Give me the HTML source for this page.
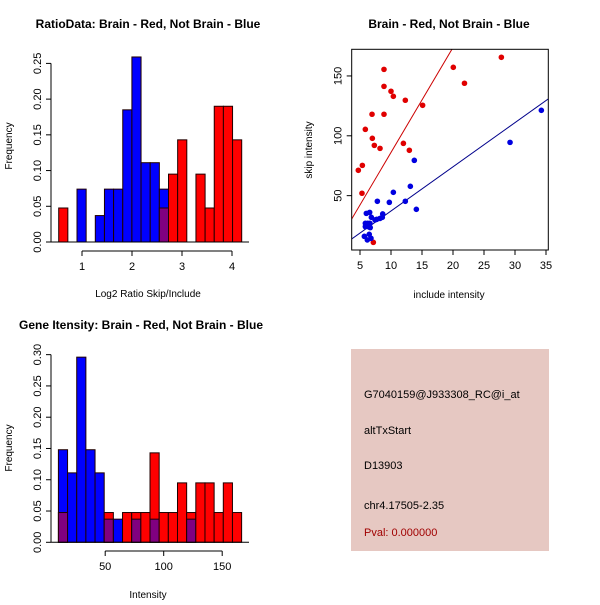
<!DOCTYPE html>
<html><head><meta charset="utf-8"><style>
body{margin:0;background:#fff}
svg{font-family:"Liberation Sans",sans-serif}
</style></head><body>
<svg id="c" width="600" height="600" xmlns="http://www.w3.org/2000/svg">
<rect width="600" height="600" fill="#fff"/>
<g id="p1"></g>
<g id="p2"></g>
<g id="p3"></g>
<g>
<rect x="351" y="349" width="198" height="202" fill="#e6c8c2"/>
<text x="364" y="398" font-size="11" fill="#000">G7040159@J933308_RC@i_at</text>
<text x="364" y="434" font-size="11" fill="#000">altTxStart</text>
<text x="364" y="469" font-size="11" fill="#000">D13903</text>
<text x="364" y="509" font-size="11" fill="#000">chr4.17505-2.35</text>
<text x="364" y="536" font-size="11" fill="#a00000">Pval: 0.000000</text>
</g>
</svg>
<script>
// Ratio histogram data (frequencies per bin)
const ratioBlue=[0,0,0.074,0,0.037,0.074,0.074,0.185,0.259,0.111,0.111,0.074,0,0,0,0,0,0,0,0];
const ratioRed=[0.0476,0,0,0,0,0,0,0,0,0,0,0.0476,0.095,0.143,0,0.095,0.0476,0.19,0.19,0.143];
const ratioBreakStart=0.534, ratioBreakWidth=0.183;
const ratioXTicks=[1,2,3,4];
const ratioYTicks=["0.00","0.05","0.10","0.15","0.20","0.25"];
// Intensity histogram data
const intBlue=[0.148,0.111,0.296,0.148,0.111,0.037,0.037,0,0.037,0,0.037,0,0,0,0.037,0,0,0,0,0];
const intRed=[0.0476,0,0,0,0,0.0476,0,0.0476,0.0476,0.0476,0.143,0.0476,0.0476,0.095,0.0476,0.095,0.095,0.0476,0.095,0.0476];
const intBreakStart=10, intBreakWidth=7.83;
const intXTicks=[50,100,150];
const intYTicks=["0.00","0.05","0.10","0.15","0.20","0.25","0.30"];
// Scatter data
const redX=[4.73,5.38,5.32,5.86,6.94,6.99,7.31,8.23,8.87,8.87,8.87,10,10.38,12.31,12,12.96,15.1,20.05,21.85,27.8,7.15];
const redY=[71.2,75.3,52,105.4,118,97.9,92,89.5,155.5,141.3,118,137.2,133,129.7,93.7,87.9,125.5,157.2,143.9,165.6,11];
const blueX=[34.25,29.2,13.76,13.12,10.38,9.73,12.31,14.09,7.8,8.66,8.6,8.23,6.83,6.02,6.56,5.86,6.24,6.6,6.65,6.49,5.7,6.18,6.77,7.69,5.86,6.34,7.42];
const blueY=[121.3,94.5,79.5,57.8,52.8,44.4,45.3,38.6,45.3,34.7,31.9,31,31.9,35.2,36,26.9,26.9,26.9,23.3,17.7,16,13,14.4,30.2,24.1,24.1,29.7];
const redFit=[-1.6,8.77], blueFit=[0.3,3.69];
const sXTicks=[5,10,15,20,25,30,35];
const sYTicks=[50,100,150];

const NS="http://www.w3.org/2000/svg";
function mk(parent,tag,attrs,name,txt){const e=document.createElementNS(NS,tag);for(const k in attrs)e.setAttribute(k,attrs[k]);


if(txt!==undefined)e.textContent=txt;parent.appendChild(e);return e;}

function hist(g,o){
  const sx=v=>o.x0+(v)*o.kx, sy=v=>o.y0-v*o.ky;
  mk(g,'text',{x:o.tx,y:o.ty,'font-size':12,'font-weight':'bold','text-anchor':'middle'},'title',o.title);
  for(let i=0;i<o.blue.length;i++){
    const a=o.bs+i*o.bw,b=a+o.bw,x=sx(a),w=sx(b)-x,bl=o.blue[i],rd=o.red[i];
    const hi=Math.max(bl,rd),lo=Math.min(bl,rd);
    if(hi>0){mk(g,'rect',{x:x,y:sy(hi),width:w,height:sy(0)-sy(hi),fill:bl>=rd?'#0000ff':'#ff0000',stroke:'#200000','stroke-width':1},'bar-'+i);}
    if(lo>0){mk(g,'rect',{x:x,y:sy(lo),width:w,height:sy(0)-sy(lo),fill:'#800080',stroke:'#200000','stroke-width':1},'bar-overlap-'+i);}
  }
  // y axis
  const yv=o.yt.map(Number);
  mk(g,'line',{x1:o.ax,y1:sy(yv[0]),x2:o.ax,y2:sy(yv[yv.length-1]),stroke:'#000'},'y-axis');
  o.yt.forEach((t,i)=>{const y=sy(yv[i]);mk(g,'line',{x1:o.ax-5,y1:y,x2:o.ax,y2:y,stroke:'#000'},'y-tick');
    mk(g,'text',{x:0,y:0,'font-size':11,'text-anchor':'middle',transform:`translate(${o.ax-10},${y}) rotate(-90)`},'y-tick-label',t);});
  mk(g,'line',{x1:o.ax,y1:sy(0),x2:o.endx,y2:sy(0),stroke:'#000'},'baseline');
  // x axis
  const xl=sx(o.xt[0]),xr=sx(o.xt[o.xt.length-1]);
  mk(g,'line',{x1:xl,y1:o.xay,x2:xr,y2:o.xay,stroke:'#000'},'x-axis');
  o.xt.forEach(t=>{const x=sx(t);mk(g,'line',{x1:x,y1:o.xay,x2:x,y2:o.xay+5,stroke:'#000'},'x-tick');
    mk(g,'text',{x:x,y:o.xay+19,'font-size':11,'text-anchor':'middle'},'x-tick-label',String(t));});
  mk(g,'text',{x:148,y:o.xlabY,'font-size':10,'text-anchor':'middle'},'x-axis-title',o.xlab);
  mk(g,'text',{x:0,y:0,'font-size':10,'text-anchor':'middle',transform:`translate(12,${o.ylabY}) rotate(-90)`},'y-axis-title','Frequency');
}
hist(document.getElementById('p1'),{x0:32,kx:50,y0:242,ky:714.4,bs:ratioBreakStart,bw:ratioBreakWidth,blue:ratioBlue,red:ratioRed,
  yt:ratioYTicks,xt:ratioXTicks,ax:51,endx:249,xay:251,title:'RatioData: Brain - Red, Not Brain - Blue',tx:148,ty:28,xlab:'Log2 Ratio Skip/Include',xlabY:297,ylabY:146});
hist(document.getElementById('p3'),{x0:46.7,kx:1.17,y0:542.3,ky:625.5,bs:intBreakStart,bw:intBreakWidth,blue:intBlue,red:intRed,
  yt:intYTicks,xt:intXTicks,ax:51,endx:249,xay:551,title:'Gene Itensity: Brain - Red, Not Brain - Blue',tx:141,ty:329,xlab:'Intensity',xlabY:598,ylabY:448});

(function(){
  const g=document.getElementById('p2');
  const sx=v=>360+(v-5)*6.2, sy=v=>255.5-v*1.197;
  const L=351.7,R=548.3,T=49.3,B=250;
  mk(g,'text',{x:449,y:28,'font-size':12,'font-weight':'bold','text-anchor':'middle'},'title','Brain - Red, Not Brain - Blue');
  const cp=mk(g,'clipPath',{id:'clp'},'clip');
  mk(cp,'rect',{x:L,y:T,width:R-L,height:B-T},'clip-rect');
  const xa=(L-360)/6.2+5, xb=(R-360)/6.2+5;
  mk(g,'line',{x1:sx(xa),y1:sy(redFit[0]+redFit[1]*xa),x2:sx(xb),y2:sy(redFit[0]+redFit[1]*xb),stroke:'#cc0000','clip-path':'url(#clp)'},'red-fit-line');
  mk(g,'line',{x1:sx(xa),y1:sy(blueFit[0]+blueFit[1]*xa),x2:sx(xb),y2:sy(blueFit[0]+blueFit[1]*xb),stroke:'#00008b','clip-path':'url(#clp)'},'blue-fit-line');
  redX.forEach((x,i)=>mk(g,'circle',{cx:sx(x),cy:sy(redY[i]),r:2.8,fill:'#e00000'},'red-point'));
  blueX.forEach((x,i)=>mk(g,'circle',{cx:sx(x),cy:sy(blueY[i]),r:2.8,fill:'#0000e0'},'blue-point'));
  mk(g,'rect',{x:L,y:T,width:R-L,height:B-T,fill:'none',stroke:'#000'},'plot-box');
  sXTicks.forEach(t=>{const x=sx(t);mk(g,'line',{x1:x,y1:B,x2:x,y2:B+5,stroke:'#000'},'x-tick');
    mk(g,'text',{x:x,y:B+19,'font-size':11,'text-anchor':'middle'},'x-tick-label',String(t));});
  sYTicks.forEach(t=>{const y=sy(t);mk(g,'line',{x1:L-5,y1:y,x2:L,y2:y,stroke:'#000'},'y-tick');
    mk(g,'text',{x:0,y:0,'font-size':11,'text-anchor':'middle',transform:`translate(${L-10},${y}) rotate(-90)`},'y-tick-label',String(t));});
  mk(g,'text',{x:449,y:298,'font-size':10,'text-anchor':'middle'},'x-axis-title','include intensity');
  mk(g,'text',{x:0,y:0,'font-size':10,'text-anchor':'middle',transform:'translate(312,150) rotate(-90)'},'y-axis-title','skip intensity');
})();
</script>
</body></html>
